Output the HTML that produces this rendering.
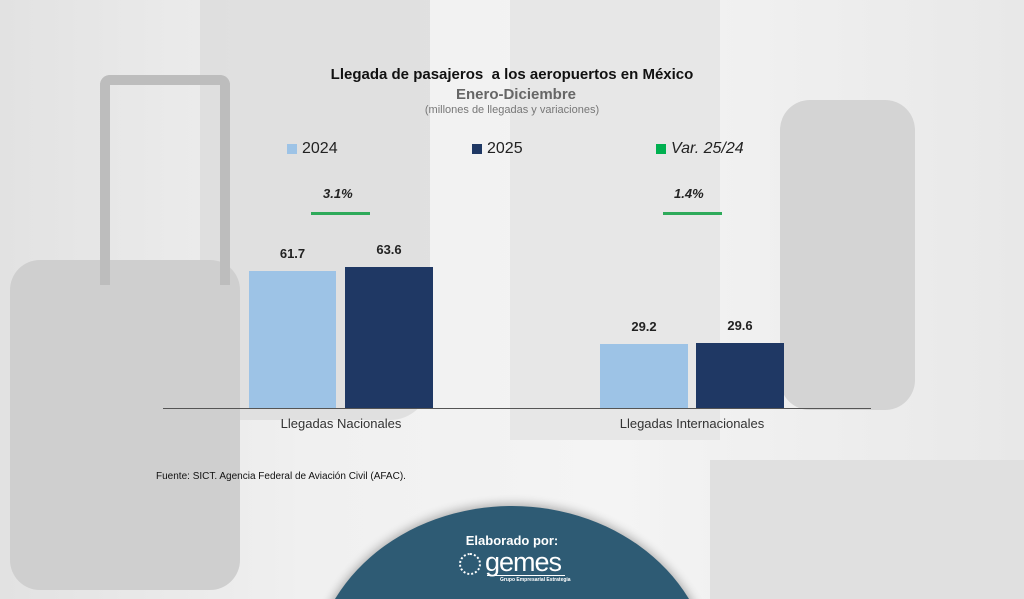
<!DOCTYPE html>
<html><head><meta charset="utf-8"><style>
html,body{margin:0;padding:0;width:1024px;height:599px;overflow:hidden}
#w{position:relative;width:1024px;height:599px;overflow:hidden;font-family:"Liberation Sans",sans-serif;background:#ececec}
.a{position:absolute}
.t{position:absolute;white-space:nowrap}
</style></head><body><div id="w">
<div class="a" style="left:0;top:0;width:1024px;height:599px;background:linear-gradient(90deg,#e2e2e2 0%,#f0f0f0 30%,#f4f4f4 60%,#e8e8e8 100%)"></div>
<div class="a" style="left:200px;top:0;width:230px;height:420px;background:#dcdcdc;border-radius:0 0 40px 40px;opacity:.8"></div>
<div class="a" style="left:510px;top:0;width:210px;height:440px;background:#e6e6e6;opacity:.9"></div>
<div class="a" style="left:10px;top:260px;width:230px;height:330px;background:#cfcfcf;border-radius:30px"></div>
<div class="a" style="left:100px;top:75px;width:110px;height:200px;border:10px solid #bdbdbd;border-bottom:none;border-radius:10px 10px 0 0"></div>
<div class="a" style="left:780px;top:100px;width:135px;height:310px;background:#d4d4d4;border-radius:30px"></div>
<div class="a" style="left:710px;top:460px;width:314px;height:139px;background:#e0e0e0"></div>
<div class="t" style="left:0;width:1024px;text-align:center;top:66px;font-size:15px;font-weight:bold;color:#111">Llegada de pasajeros &nbsp;a los aeropuertos en México</div>
<div class="t" style="left:0;width:1024px;text-align:center;top:86px;font-size:15px;font-weight:bold;color:#666;padding-left:4px">Enero-Diciembre</div>
<div class="t" style="left:0;width:1024px;text-align:center;top:104px;font-size:11px;color:#777">(millones de llegadas y variaciones)</div>
<div class="a" style="left:287px;top:144px;width:10px;height:10px;background:#9dc3e6"></div>
<div class="t" style="left:302px;top:140px;font-size:16px;color:#222">2024</div>
<div class="a" style="left:472px;top:144px;width:10px;height:10px;background:#1f3864"></div>
<div class="t" style="left:487px;top:140px;font-size:16px;color:#222">2025</div>
<div class="a" style="left:656px;top:144px;width:10px;height:10px;background:#00b050"></div>
<div class="t" style="left:671px;top:140px;font-size:16px;font-style:italic;color:#222">Var. 25/24</div>
<div class="t" style="left:323px;top:186px;font-size:13px;font-weight:bold;font-style:italic;color:#222">3.1%</div>
<div class="a" style="left:311px;top:212px;width:59px;height:3px;background:#2eaa5a"></div>
<div class="t" style="left:674px;top:186px;font-size:13px;font-weight:bold;font-style:italic;color:#222">1.4%</div>
<div class="a" style="left:663px;top:212px;width:59px;height:3px;background:#2eaa5a"></div>
<div class="a" style="left:249px;top:271px;width:87px;height:137px;background:#9dc3e6"></div>
<div class="a" style="left:345px;top:267px;width:88px;height:141px;background:#1f3864"></div>
<div class="a" style="left:600px;top:344px;width:88px;height:64px;background:#9dc3e6"></div>
<div class="a" style="left:696px;top:343px;width:88px;height:65px;background:#1f3864"></div>
<div class="t" style="left:249px;width:87px;text-align:center;top:246px;font-size:13px;font-weight:bold;color:#222">61.7</div>
<div class="t" style="left:345px;width:88px;text-align:center;top:242px;font-size:13px;font-weight:bold;color:#222">63.6</div>
<div class="t" style="left:600px;width:88px;text-align:center;top:319px;font-size:13px;font-weight:bold;color:#222">29.2</div>
<div class="t" style="left:696px;width:88px;text-align:center;top:318px;font-size:13px;font-weight:bold;color:#222">29.6</div>
<div class="a" style="left:163px;top:408px;width:708px;height:1px;background:#555"></div>
<div class="t" style="left:241px;width:200px;text-align:center;top:416px;font-size:13px;color:#333">Llegadas Nacionales</div>
<div class="t" style="left:592px;width:200px;text-align:center;top:416px;font-size:13px;color:#333">Llegadas Internacionales</div>
<div class="t" style="left:156px;top:471px;font-size:10px;color:#111">Fuente: SICT. Agencia Federal de Aviación Civil (AFAC).</div>
<svg class="a" style="left:0;top:0" width="1024" height="599" viewBox="0 0 1024 599">
<defs><filter id="s" x="-20%" y="-20%" width="140%" height="140%"><feGaussianBlur stdDeviation="5"/></filter></defs>
<ellipse cx="512" cy="682" rx="202" ry="178" fill="#000" opacity=".3" filter="url(#s)"/>
<ellipse cx="512" cy="680" rx="200" ry="174" fill="#2e5b74"/>
</svg>
<div class="t" style="left:0;width:1024px;text-align:center;top:533px;font-size:13px;font-weight:bold;color:#fff">Elaborado por:</div>
<div class="a" style="left:459px;top:553px;width:18px;height:18px;border:2px dotted #fff;border-radius:50%"></div>
<div class="t" style="left:485px;top:547px;font-size:27px;color:#fff;letter-spacing:-1px;font-weight:300">gemes</div>
<div class="a" style="left:487px;top:575px;width:78px;height:1px;background:#fff"></div>
<div class="t" style="left:500px;top:577px;font-size:5px;color:#fff;font-weight:bold">Grupo Empresarial Estrategia</div>
</div></body></html>
